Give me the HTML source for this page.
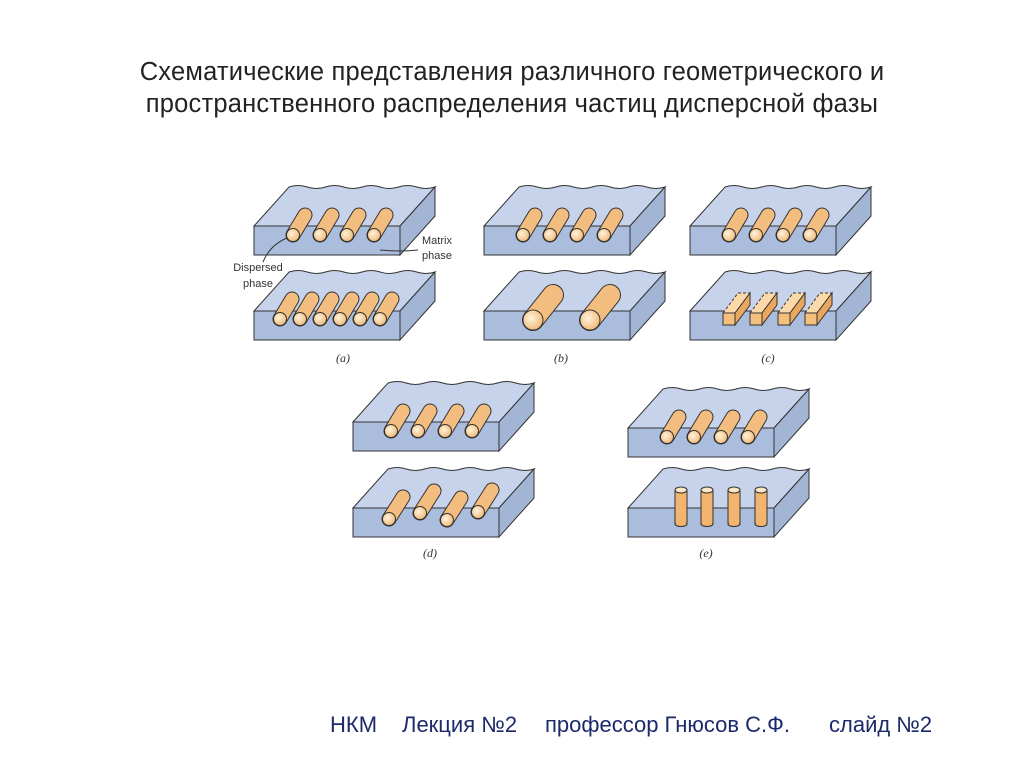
<!DOCTYPE html>
<html><head><meta charset="utf-8"><style>
body{margin:0;width:1024px;height:767px;background:#fff;overflow:hidden;font-family:"Liberation Sans","DejaVu Sans",sans-serif}
.t{position:absolute;left:0;width:1024px;text-align:center;font-size:25.5px;color:#222;line-height:32px;top:56px;letter-spacing:0.2px}
.f{position:absolute;top:712px;font-size:22px;color:#1c2a6b;white-space:pre}
</style></head><body>
<div class="t">Схематические представления различного геометрического и<br>пространственного распределения частиц дисперсной фазы</div>
<svg id="s" width="1024" height="767" style="position:absolute;left:0;top:0">
<defs>
<radialGradient id="cap" cx="0.4" cy="0.4" r="0.7"><stop offset="0" stop-color="#fff3dc"/><stop offset="1" stop-color="#f0b36d"/></radialGradient>
</defs>
</svg>
<div class="f" style="left:330px">НКМ</div>
<div class="f" style="left:402px">Лекция №2</div>
<div class="f" style="left:545px">профессор Гнюсов С.Ф.</div>
<div class="f" style="left:829px">слайд №2</div>
<script>
var s=document.getElementById('s'),NS='http://www.w3.org/2000/svg';
function el(t,a){var e=document.createElementNS(NS,t);for(var k in a)e.setAttribute(k,a[k]);s.appendChild(e);return e}
var W=146,H=29,DX=35,DY=-39;
function block(x,y){
 var bx=x+DX,by=y+DY;
 var wave='';
 for(var i=1;i<=8;i++){wave+=' Q'+(bx+(i-0.5)*W/8)+','+(by+(i%2?-3:3))+' '+(bx+i*W/8)+','+by}
 el('path',{d:'M'+x+','+y+' L'+bx+','+by+wave+' L'+(x+W)+','+y+' Z',fill:'#c6d3ea',stroke:'#333','stroke-width':1});
 el('path',{d:'M'+(x+W)+','+y+' L'+(bx+W)+','+by+' L'+(bx+W)+','+(by+H)+' L'+(x+W)+','+(y+H)+' Z',fill:'#a3b5d5',stroke:'#333','stroke-width':1});
 el('rect',{x:x,y:y,width:W,height:H,fill:'#abbddc',stroke:'#333','stroke-width':1});
}
function rod(cx,cy,r,dx,dy){
 el('line',{x1:cx,y1:cy,x2:cx+dx,y2:cy+dy,stroke:'#333','stroke-width':2*r+2,'stroke-linecap':'round'});
 el('line',{x1:cx,y1:cy,x2:cx+dx,y2:cy+dy,stroke:'#f3bd80','stroke-width':2*r,'stroke-linecap':'round'});
 el('circle',{cx:cx,cy:cy,r:r,fill:'url(#cap)',stroke:'#333','stroke-width':1});
}
function rods(xs,y,r,dx,dy){xs.forEach(function(x,i){rod(x,Array.isArray(y)?y[i]:y,r,dx,dy)})}
block(254,226);rods([293,320,347,374],235,6.5,12,-20);
block(254,311);rods([280,300,320,340,360,380],319,6.5,12,-20);
block(484,226);rods([523,550,577,604],235,6.5,12,-20);
block(484,311);rods([533,590],320,10,20,-25);
block(690,226);rods([729,756,783,810],235,6.5,12,-20);
block(690,311);
[723,750,778,805].forEach(function(x){
 el('path',{d:'M'+x+','+313+' l15,-20 l12,0 l-15,20 Z',fill:'#fbd9a8',stroke:'#333','stroke-width':1,'stroke-dasharray':'3,2'});
 el('path',{d:'M'+(x+12)+',313 l15,-20 l0,12 l-15,20 Z',fill:'#eaa85e',stroke:'#333','stroke-width':1});
 el('rect',{x:x,y:313,width:12,height:12,fill:'#f5c07e',stroke:'#333','stroke-width':1});
});
block(353,422);rods([391,418,445,472],431,6.5,12,-20);
block(353,508);rods([389,420,447,478],[519,513,520,512],6.5,14,-22);
block(628,428);rods([667,694,721,748],437,6.5,12,-20);
block(628,508);
[681,707,734,761].forEach(function(x){
 el('rect',{x:x-6,y:490,width:12,height:34,fill:'#f2b46e',stroke:'#333','stroke-width':1});
 el('ellipse',{cx:x,cy:524,rx:6,ry:2.5,fill:'#f2b46e',stroke:'#333','stroke-width':1});
 el('rect',{x:x-5.5,y:490,width:11,height:33,fill:'#f2b46e'});
 el('ellipse',{cx:x,cy:490,rx:6,ry:3,fill:'#fde6c4',stroke:'#333','stroke-width':1});
});
function tx(x,y,t,sz,it){var e=el('text',{x:x,y:y,'font-size':sz,fill:'#333','font-family':it?'Liberation Serif,serif':'Liberation Sans,sans-serif','font-style':it?'italic':'normal','text-anchor':'middle'});e.textContent=t}
tx(437,244,'Matrix',11);tx(437,259,'phase',11);
tx(258,271,'Dispersed',11);tx(258,287,'phase',11);
el('path',{d:'M263,262 Q270,245 287,238',fill:'none',stroke:'#333'});
el('path',{d:'M418,250 Q400,252 380,250',fill:'none',stroke:'#333'});
tx(343,362,'(a)',12,1);tx(561,362,'(b)',12,1);tx(768,362,'(c)',12,1);
tx(430,557,'(d)',12,1);tx(706,557,'(e)',12,1);
</script>
</body></html>
